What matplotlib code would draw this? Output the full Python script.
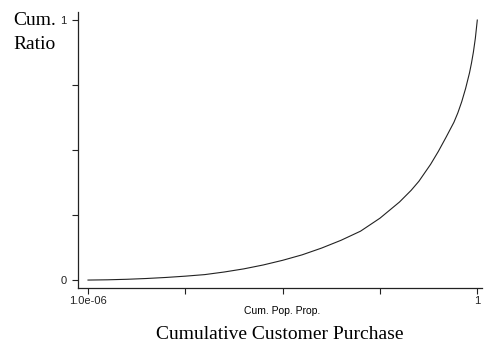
import matplotlib
matplotlib.use("Agg")
import matplotlib.pyplot as plt

# cumulative population proportion vs cumulative ratio
pop_prop = [0.0, 0.05, 0.1, 0.15, 0.2, 0.25, 0.3, 0.35, 0.4, 0.45, 0.5, 0.55,
            0.6, 0.65, 0.7, 0.75, 0.8, 0.83, 0.85, 0.88, 0.9, 0.92, 0.94,
            0.95, 0.96, 0.97, 0.98, 0.985, 0.99, 0.995, 1.0]
cum_ratio = [0.0, 0.001, 0.003, 0.006, 0.010, 0.015, 0.021, 0.031, 0.043, 0.058,
             0.076, 0.097, 0.123, 0.153, 0.188, 0.238, 0.300, 0.345, 0.380,
             0.445, 0.495, 0.550, 0.607, 0.643, 0.686, 0.737, 0.797, 0.834,
             0.877, 0.930, 1.0]
x_ticks = [1e-6, 0.25, 0.5, 0.75, 1.0]
x_labels = ["1.0e-06", "", "", "", "1"]
y_ticks = [0, 0.25, 0.5, 0.75, 1.0]
y_labels = ["0", "", "", "", "1"]

sans = "Liberation Sans"
serif = "Liberation Serif"

fig = plt.figure(figsize=(4.86, 3.43), dpi=100)
ax = fig.add_axes([0.1605, 0.160, 0.832, 0.805])

ax.plot(pop_prop, cum_ratio, color="#222222", linewidth=0.8)

ax.set_xlim(-0.0257, 1.013)
ax.set_ylim(-0.031, 1.031)
ax.set_xticks(x_ticks)
ax.set_xticklabels(x_labels, family=sans, fontsize=8)
ax.set_yticks(y_ticks)
ax.set_yticklabels(y_labels, family=sans, fontsize=8)
ax.tick_params(direction="out", length=4.3, width=0.8, colors="#222222")
ax.tick_params(axis="x", pad=1.5)
ax.tick_params(axis="y", pad=4)

ax.spines["top"].set_visible(False)
ax.spines["right"].set_visible(False)
for s in ("left", "bottom"):
    ax.spines[s].set_linewidth(0.9)
    ax.spines[s].set_color("#222222")

# axis title under the tick labels, note title at the bottom
fig.text(0.581, 0.086, "Cum. Pop. Prop.", family=sans, fontsize=7.5,
         ha="center", va="baseline")
fig.text(0.576, 0.012, "Cumulative Customer Purchase", family=serif,
         fontsize=14, ha="center", va="baseline")
fig.text(0.027, 0.927, "Cum.", family=serif, fontsize=14, ha="left", va="baseline")
fig.text(0.027, 0.857, "Ratio", family=serif, fontsize=14, ha="left", va="baseline")

fig.savefig("out.png", dpi=100)
